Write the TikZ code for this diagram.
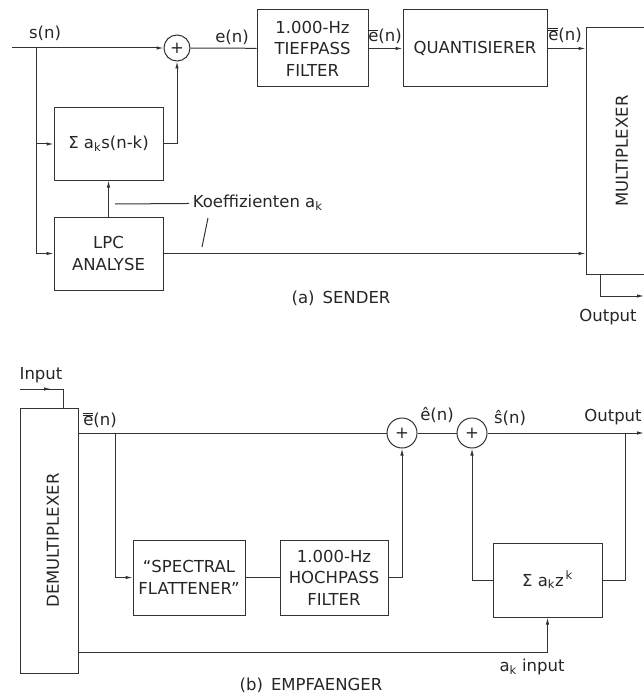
\documentclass[tikz,border=0pt]{standalone}
\usepackage{fontspec}
\setmainfont{DejaVu Sans}
\usetikzlibrary{arrows.meta}
\usetikzlibrary{decorations.markings}
\newcommand{\ebar}{$\overline{\mbox{e}}$}
\newcommand{\ebbar}{$\overline{\overline{\mbox{e}}}$}

\begin{document}
\begin{tikzpicture}[x=1pt,y=-1pt,line width=1pt,draw=black!80,
  every node/.style={font=\fontsize{16.5}{21.5}\selectfont,text=black!85},
  blk/.style={draw,align=center,inner sep=0pt},
  sumnode/.style={draw,circle,inner sep=0pt,minimum size=#1},
  sig/.style={-{Latex[length=7pt,width=3.5pt]}},
  midarrow/.style={postaction={decorate},decoration={markings,mark=at position #1 with {\arrow{Latex[length=7pt,width=3.5pt]}}}}]
\useasboundingbox (0,0) rectangle (644,695);
\clip (0,0) rectangle (644,695);
% (a) Sender
\coordinate (sin) at (12,48);
\coordinate (sbr) at (36,48);
\node[sumnode=26pt] (add) at (177,48) {+};
\node[blk,minimum width=109pt,minimum height=72pt] (pred) at (108.5,144) {Σ a\textsubscript{k}s(n-k)};
\node[blk,minimum width=109pt,minimum height=73pt] (lpc) at (108.5,253.5) {LPC\\ANALYSE};
\node[blk,minimum width=111pt,minimum height=77pt] (tp) at (312.5,48.5) {1.000-Hz\\TIEFPASS\\FILTER};
\node[blk,minimum width=144pt,minimum height=77pt] (quant) at (475,48.5) {QUANTISIERER};
\node[blk,minimum width=72pt,minimum height=246pt] (mux) at (622,151) {};
\node[rotate=90] (muxtxt) at (mux.center) {MULTIPLEXER};
\node (sn) at (45,33) {s(n)};
\node (en) at (232,37) {e(n)};
\node (enb) at (385,36) {\ebar(n)};
\node (enbb) at (565,35) {\ebbar(n)};
\node[anchor=west] (koef) at (189,203) {Koeffizienten a\textsubscript{k}};
\coordinate (kstart) at (115,204);
\coordinate (aout) at (644,296);
\coordinate (mbr) at (600,274);
\node (outa) at (608,317) {Output};
\node (capa) at (341,298) {(a)\, SENDER};
\draw[sig] (sin) -- (add);
\draw[sig] (sbr) |- (pred);
\draw[sig] (sbr) |- (lpc);
\draw[sig] (pred) -| (add);
\draw[sig] (lpc) -- (pred);
\draw (add) -- (tp);
\draw[sig] (tp) -- (quant);
\draw[sig] (quant.east) -- (quant.east -| mux.west);
\draw[sig] (lpc.east) -- (lpc.east -| mux.west);
\draw (kstart) -- (koef);
\draw (208,218) -- (202,247);
\draw[sig] (mbr) |- (aout);
% (b) Empfaenger
\node (inlbl) at (41,375) {Input};
\node[blk,minimum width=58pt,minimum height=265pt] (demux) at (49,540.5) {};
\node[rotate=90] (demuxtxt) at (53,540.5) {DEMULTIPLEXER};
\coordinate (bin) at (20,389);
\coordinate (dtop) at (63,408);
\coordinate (dq) at (78,433);
\coordinate (bbr) at (115,433);
\coordinate (db) at (78,652);
\coordinate (obr) at (625,433);
\coordinate (bout) at (644,433);
\node[sumnode=30pt] (add1) at (402,433) {+};
\node[sumnode=30pt] (add2) at (472,433) {+};
\node[blk,minimum width=112pt,minimum height=75pt] (flat) at (189,577.5) {“SPECTRAL\\FLATTENER”};
\node[blk,minimum width=108pt,minimum height=75pt] (hp) at (334,577.5) {1.000-Hz\\HOCHPASS\\FILTER};
\node[blk,minimum width=109pt,minimum height=74pt] (psum) at (547.5,580) {Σ a\textsubscript{k}z\textsuperscript{\,k}};
\node (enbb2) at (100,420) {\ebbar(n)};
\node (ehat) at (437,415) {ê(n)};
\node (shat) at (510,418) {ŝ(n)};
\node (outb) at (613,417) {Output};
\node (akin) at (532,667) {a\textsubscript{k} input};
\node (capb) at (311,685) {(b)\, EMPFAENGER};
\draw[midarrow=0.5] (bin) -| (dtop);
\draw (dq) -- (add1);
\draw[sig] (bbr) |- (flat);
\draw (flat) -- (hp);
\draw[sig] (hp) -| (add1);
\draw (add1) -- (add2);
\draw[sig] (add2) -- (bout);
\draw (obr) |- (psum);
\draw[sig] (psum) -| (add2);
\draw[sig] (db) -| (psum);
\end{tikzpicture}
\end{document}
